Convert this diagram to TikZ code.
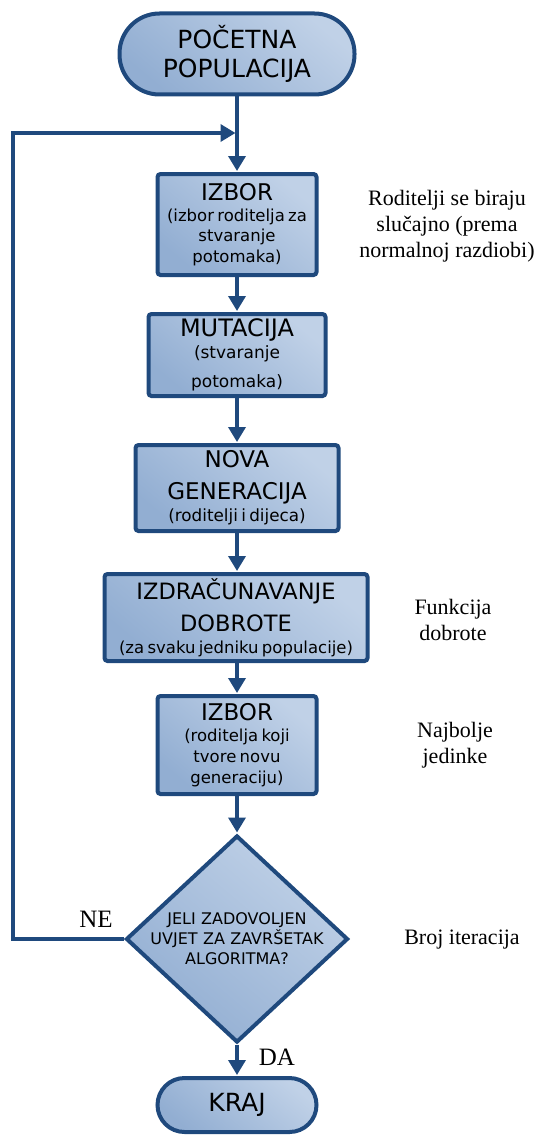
\documentclass[tikz,border=0pt]{standalone}
\usepackage{fontspec}
\setmainfont{Liberation Serif}
\newfontfamily\boxfont{DejaVu Sans}
\usetikzlibrary{arrows.meta,shapes.geometric}
\definecolor{edge}{HTML}{1F497D}
\definecolor{lite}{HTML}{C0D1E7}
\definecolor{dark}{HTML}{92AED2}
\newcommand{\fs}[2]{\fontsize{#1}{#2}\selectfont}
\tikzset{
  fc/.style={draw=edge, line width=4pt, top color=lite, bottom color=dark, shading angle=-40,
    font=\boxfont, align=center, inner sep=0pt, text=black},
  procbox/.style={fc, rectangle, rounded corners=3pt},
  term/.style={fc, rectangle},
  dec/.style={fc, diamond, aspect=1},
  flow/.style={draw=edge, line width=3.5pt, shorten >=1pt, -{Triangle[width=17pt,length=15pt]}},
  note/.style={font=\fontsize{22}{26}\selectfont, align=center, inner sep=0pt},
}
\begin{document}
\begin{tikzpicture}[x=1pt,y=-1pt]
\useasboundingbox (0,0) rectangle (538,1137);
% nodes
\node[term, rounded corners=40pt, minimum width=235pt, minimum height=81pt, text width=228pt] (start) at (237,54)
  {\fs{25}{29}POČETNA\\POPULACIJA\par};
\node[procbox, minimum width=159pt, minimum height=101pt, text width=155pt] (izbor1) at (237,224.5)
  {\fs{23}{24}IZBOR\par\fs{16.5}{20.5}(izbor roditelja za\\stvaranje\\potomaka)\par};
\node[procbox, minimum width=177pt, minimum height=82pt, text width=172pt] (mut) at (237,355)
  {\fs{24}{25}MUTACIJA\par\fs{17}{22}(stvaranje\par\fs{17}{29}potomaka)\par};
\node[procbox, minimum width=203pt, minimum height=86pt, text width=198pt] (nova) at (237,488)
  {\fs{23}{32}NOVA\\GENERACIJA\par\fs{16.8}{22}(roditelji i dijeca)\par};
\node[procbox, minimum width=263pt, minimum height=87pt, text width=258pt] (dob) at (236,617.5)
  {\fs{22.5}{32}IZDRAČUNAVANJE\\DOBROTE\par\fs{16.5}{22}(za svaku jedniku populacije)\par};
\node[procbox, minimum width=159pt, minimum height=98pt, text width=155pt] (izbor2) at (237,745)
  {\fs{23}{24}IZBOR\par\fs{16.5}{21}(roditelja koji\\tvore novu\\generaciju)\par};
\node[dec, minimum width=222pt, minimum height=207pt] (dec) at (237,939) {};
\node[font=\boxfont\fontsize{16}{20}\selectfont, align=center, inner sep=0pt, text width=190pt] (dtext) at (237,939)
  {JELI ZADOVOLJEN\\UVJET ZA ZAVRŠETAK\\ALGORITMA?\par};
\node[term, rounded corners=27pt, minimum width=159pt, minimum height=54pt] (kraj) at (237,1105)
  {\fs{25}{26}KRAJ};
% side notes
\node[note] (n1) at (447,226) {Roditelji se biraju\\slučajno (prema\\normalnoj razdiobi)};
\node[note] (n2) at (453,620) {Funkcija\\dobrote};
\node[note] (n3) at (455,745) {Najbolje\\jedinke};
\node[note] (n4) at (462,940) {Broj iteracija};
\node[font=\fontsize{25}{28}\selectfont, inner sep=0pt] (ne) at (96,919) {NE};
\node[font=\fontsize{25}{28}\selectfont, inner sep=0pt] (da) at (277,1057) {DA};
% connectors
\coordinate (la) at (13,939);
\coordinate (lb) at (13,133);
\coordinate (join) at (235.5,133);
\draw[flow] (start.south) -- (izbor1.north);
\draw[flow] (izbor1.south) -- (mut.north);
\draw[flow] (mut.south) -- (nova.north);
\draw[flow] (nova.south) -- (dob.north -| nova.south);
\draw[flow] (dob.south -| izbor2.north) -- (izbor2.north);
\draw[flow] (izbor2.south) -- (dec.north);
\draw[flow] (dec.south) -- (kraj.north);
\draw[flow, shorten >=0pt] (dec.west) -- (la) -- (lb) -- (join);
\end{tikzpicture}
\end{document}
